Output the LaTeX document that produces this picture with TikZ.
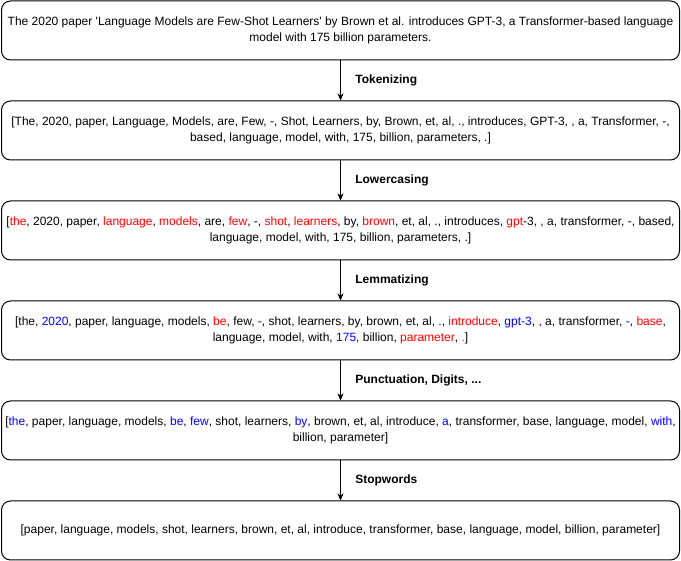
\documentclass[tikz,border=0pt]{standalone}
\usepackage{fontspec}
\setmainfont{Liberation Sans}
\usetikzlibrary{arrows.meta,positioning}

\definecolor{tokred}{RGB}{255,0,0}
\definecolor{tokblue}{RGB}{0,0,255}
\newcommand{\rd}[1]{\textcolor{tokred}{#1}}
\newcommand{\bl}[1]{\textcolor{tokblue}{#1}}

\tikzset{
  stagebox/.style={draw, line width=1pt, rounded corners=9pt, minimum width=678pt,
    minimum height=59pt, align=center, font=\fontsize{12}{15.5}\selectfont},
  flow/.style={-{Stealth[length=7pt,width=6pt,inset=2pt]}, line width=1pt},
  steplabel/.style={right, xshift=11pt, font=\fontsize{12}{14}\selectfont\bfseries}
}

\begin{document}
\begin{tikzpicture}[x=1pt,y=-1pt]
  \useasboundingbox (0,0) rectangle (681,561);

  % the sentence and its five stages
  \node[stagebox] (raw) at (340.5,30.5) {The 2020 paper \textquotesingle Language Models are Few-Shot Learners\textquotesingle{} by Brown et al. introduces GPT-3, a Transformer-based language\\ model with 175 billion parameters.};
  \node[stagebox] (tok) at (340.5,130.5) {[The, 2020, paper, Language, Models, are, Few, -, Shot, Learners, by, Brown, et, al, ., introduces, GPT-3, , a, Transformer, -,\\ based, language, model, with, 175, billion, parameters, .]};
  \node[stagebox] (low) at (340.5,230.5) {[\rd{the}, 2020, paper, \rd{language}, \rd{models}, are, \rd{few}, -, \rd{shot}, \rd{learners}, by, \rd{brown}, et, al, ., introduces, \rd{gpt}-3, , a, transformer, -, based,\\ language, model, with, 175, billion, parameters, .]};
  \node[stagebox] (lem) at (340.5,330.5) {[the, \bl{2020}, paper, language, models, \rd{be}, few, \bl{-}, shot, learners, by, brown, et, al, \bl{.}, \rd{introduce}, \bl{gpt-3}, \bl{,} a, transformer, \bl{-}, \rd{base},\\ language, model, with, \bl{175}, billion, \rd{parameter}, \rd{.}]};
  \node[stagebox] (pun) at (340.5,430.5) {[\bl{the}, paper, language, models, \bl{be}, \bl{few}, shot, learners, \bl{by}, brown, et, al, introduce, \bl{a}, transformer, base, language, model, \bl{with},\\ billion, parameter]};
  \node[stagebox] (stop) at (340.5,530.5) {[paper, language, models, shot, learners, brown, et, al, introduce, transformer, base, language, model, billion, parameter]};

  % steps
  \foreach \a/\b/\l in {raw/tok/Tokenizing, tok/low/Lowercasing, low/lem/Lemmatizing, lem/pun/{Punctuation, Digits, ...}, pun/stop/Stopwords} {
    \draw[flow] (\a) -- node[steplabel] {\l} (\b);
  }
\end{tikzpicture}
\end{document}
